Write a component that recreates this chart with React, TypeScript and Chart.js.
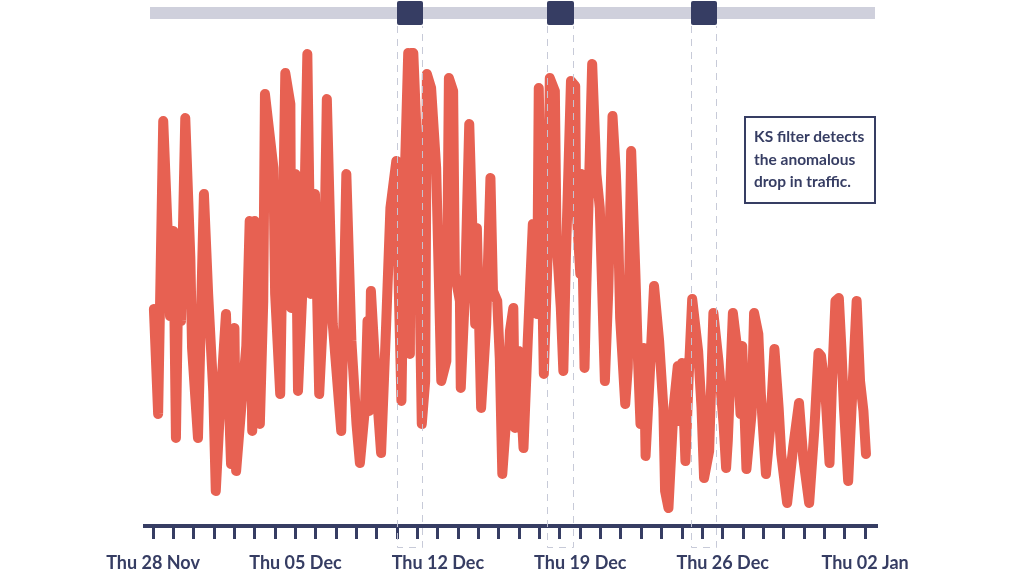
import React, { useEffect, useRef } from 'react';
import { Chart, registerables } from 'chart.js';

Chart.register(...registerables);

const NAVY = '#363d63';
const RED = '#e76152';

// hours since Thu 28 Nov 00:00
const hours = [
  1, 6, 12, 17, 20, 24, 27, 30, 33, 38, 44, 46, 53, 60, 65, 71, 74, 79, 86, 92,
  96, 98, 104, 110, 114, 117, 120, 124, 126, 130, 132, 142, 144, 150, 153, 156, 162, 163, 168, 171,
  177, 182, 186, 191, 196, 201, 205, 209, 212, 222, 228, 234, 240, 244, 250, 253, 255, 257, 263, 269,
  275, 280, 287, 290, 293, 297, 301, 303, 304, 307, 312, 317, 321, 323, 328, 334, 340, 346, 349, 354,
  356, 362, 363, 368, 373, 380, 382, 387, 393, 398, 401, 406, 409, 412, 417, 421, 425, 427, 431, 437,
  442, 448, 453, 455, 461, 466, 468, 474, 476, 481, 484, 487, 493, 498, 499, 504, 505, 509, 511, 518,
  523, 527, 533, 537, 542, 546, 549, 551, 557, 560, 564, 569, 572, 575, 579, 581, 586, 591, 597, 602,
  604, 608, 614, 619, 621, 624, 628, 632, 636, 643, 647, 650, 656, 661, 667, 673, 676, 678, 684, 689,
  693, 695, 700, 706, 709, 714, 717, 723, 728, 733, 738, 741, 748, 755, 762, 767, 774, 780, 785, 788,
  793, 798, 801, 805, 809, 812, 815, 820, 824, 830, 834, 838, 841,
];

const traffic = [
  43.4, 22.4, 81, 60, 42, 59, 17.6, 52, 41, 81.6, 53.6, 35.6, 17.6, 66.4, 46.4, 27, 7, 23.6, 42.4, 12.4,
  39.6, 11, 23.6, 36, 61, 19, 61, 45, 20.4, 45, 86.4, 71.6, 46.4, 26.4, 58.4, 90.6, 84.4, 43.6, 70.4, 27,
  50.4, 94.4, 46.4, 66.4, 26.4, 43.6, 85.4, 59, 40.4, 19, 70.4, 37, 20.4, 12.6, 23.6, 41, 23, 47, 29, 14.6,
  40.4, 63.6, 73, 46.4, 25, 70.4, 94.6, 34.4, 94.6, 94.6, 73.6, 20.4, 29, 90.4, 87.6, 71.6, 29, 33, 89.6, 87,
  50.4, 45, 27.6, 47, 80.4, 40.4, 59.6, 23.6, 40.4, 69.6, 47, 45, 33.6, 10.4, 22.4, 39, 43.6, 19.6, 35, 15.6,
  37, 60.4, 42.4, 87.6, 30.4, 57, 89.6, 87, 57, 43.6, 31, 53.6, 89, 88, 65, 50.4, 70.4, 31.6, 47, 92.4,
  70.4, 63.6, 29, 47, 82, 70.4, 57, 41.6, 24.4, 31.6, 75, 50.4, 33.6, 20.4, 35.6, 14, 30.4, 48, 37, 23.6,
  7, 3.6, 23.6, 32, 21, 32.6, 13, 30.4, 45.4, 35, 23.6, 9.6, 15, 42.6, 33, 20.4, 11.6, 17, 42.6, 35.6,
  22.4, 36, 11.4, 22.4, 42.6, 38.4, 26.4, 10.4, 19.6, 35.4, 23.6, 14.4, 4.6, 15.6, 24.6, 13.6, 4.6, 19, 34.6, 34,
  27, 12.6, 29, 45, 45.6, 35.6, 23.6, 9, 23.6, 45, 29, 23, 14.4,
];

const weekLabels = ['Thu 28 Nov', 'Thu 05 Dec', 'Thu 12 Dec', 'Thu 19 Dec', 'Thu 26 Dec', 'Thu 02 Jan'];
const dayTicks = [
  0, 24, 48, 72, 96, 120, 144, 168, 192, 216, 240, 264, 288, 312, 336, 360, 384, 408,
  432, 456, 480, 504, 528, 552, 576, 600, 624, 648, 672, 696, 720, 744, 768, 792, 816, 840,
];

// KS filter detection windows (start hour, length in hours)
const windowStarts = [288, 465, 634];
const windowLength = 31;

const annotationLines = ['KS filter detects', 'the anomalous', 'drop in traffic.'];

const overlayPlugin = {
  id: 'ksOverlay',
  afterDatasetsDraw(chart: any) {
    const { ctx, chartArea, scales } = chart;
    const x = scales.x;
    ctx.save();
    ctx.fillStyle = '#cfd0dc';
    ctx.fillRect(chartArea.left + 5, 7, chartArea.right - chartArea.left - 7, 12);
    windowStarts.forEach((s) => {
      const x0 = Math.round(x.getPixelForValue(s));
      const x1 = Math.round(x.getPixelForValue(s + windowLength));
      ctx.strokeStyle = 'rgba(196,199,214,0.95)';
      ctx.lineWidth = 1;
      ctx.setLineDash([7, 6]);
      ctx.beginPath();
      ctx.moveTo(x0 + 0.5, 26);
      ctx.lineTo(x0 + 0.5, 547.5);
      ctx.lineTo(x1 - 0.5, 547.5);
      ctx.lineTo(x1 - 0.5, 26);
      ctx.stroke();
      ctx.setLineDash([]);
      ctx.fillStyle = NAVY;
      ctx.beginPath();
      (ctx as any).roundRect(x0, 1, x1 - x0, 24, 2);
      ctx.fill();
    });
    ctx.restore();
  },
};

export default function App() {
  const canvasRef = useRef<HTMLCanvasElement | null>(null);

  useEffect(() => {
    document.body.style.margin = '0';
    const canvas = canvasRef.current;
    if (!canvas) return;
    const chart = new Chart(canvas, {
      type: 'line',
      data: {
        datasets: [
          {
            label: 'Traffic',
            data: hours.map((h, i) => ({ x: h, y: traffic[i] })),
            borderColor: RED,
            backgroundColor: RED,
            borderWidth: 10,
            borderJoinStyle: 'round',
            borderCapStyle: 'round',
            pointRadius: 0,
            tension: 0,
            fill: false,
          },
        ],
      },
      options: {
        animation: false,
        responsive: false,
        maintainAspectRatio: false,
        layout: { padding: { left: 145, right: 147, top: 26, bottom: 0 } },
        plugins: { legend: { display: false }, tooltip: { enabled: false } },
        scales: {
          x: {
            type: 'linear',
            min: -9.5,
            max: 854,
            afterBuildTicks: (scale: any) => {
              scale.ticks = dayTicks.map((v) => ({ value: v }));
            },
            grid: {
              display: true,
              drawOnChartArea: false,
              drawTicks: true,
              tickLength: 13,
              tickWidth: 3,
              tickColor: NAVY,
              color: NAVY,
            },
            border: { display: true, color: NAVY, width: 4 },
            ticks: {
              autoSkip: false,
              maxRotation: 0,
              minRotation: 0,
              padding: 15,
              color: NAVY,
              font: { family: 'Lato', size: 18, weight: 'bold', lineHeight: 1 },
              callback: (value: any) => (Number(value) % 168 === 0 ? weekLabels[Number(value) / 168] : ''),
            },
          },
          y: { display: false, min: 0, max: 100 },
        },
      },
      plugins: [overlayPlugin],
    } as any);
    return () => chart.destroy();
  }, []);

  return (
    <div style={{ position: 'relative', width: 1024, height: 569, background: '#fff', overflow: 'hidden' }}>
      <canvas ref={canvasRef} width={1024} height={587} style={{ display: 'block' }} />
      <div
        style={{
          position: 'absolute',
          left: 744,
          top: 116,
          width: 132,
          height: 88,
          boxSizing: 'border-box',
          border: `2px solid ${NAVY}`,
          padding: '7px 0 0 8px',
          fontFamily: 'Lato, sans-serif',
          fontWeight: 700,
          fontSize: 15.5,
          lineHeight: '22.5px',
          color: NAVY,
          whiteSpace: 'nowrap',
        }}
      >
        {annotationLines.map((l) => (
          <div key={l}>{l}</div>
        ))}
      </div>
    </div>
  );
}
